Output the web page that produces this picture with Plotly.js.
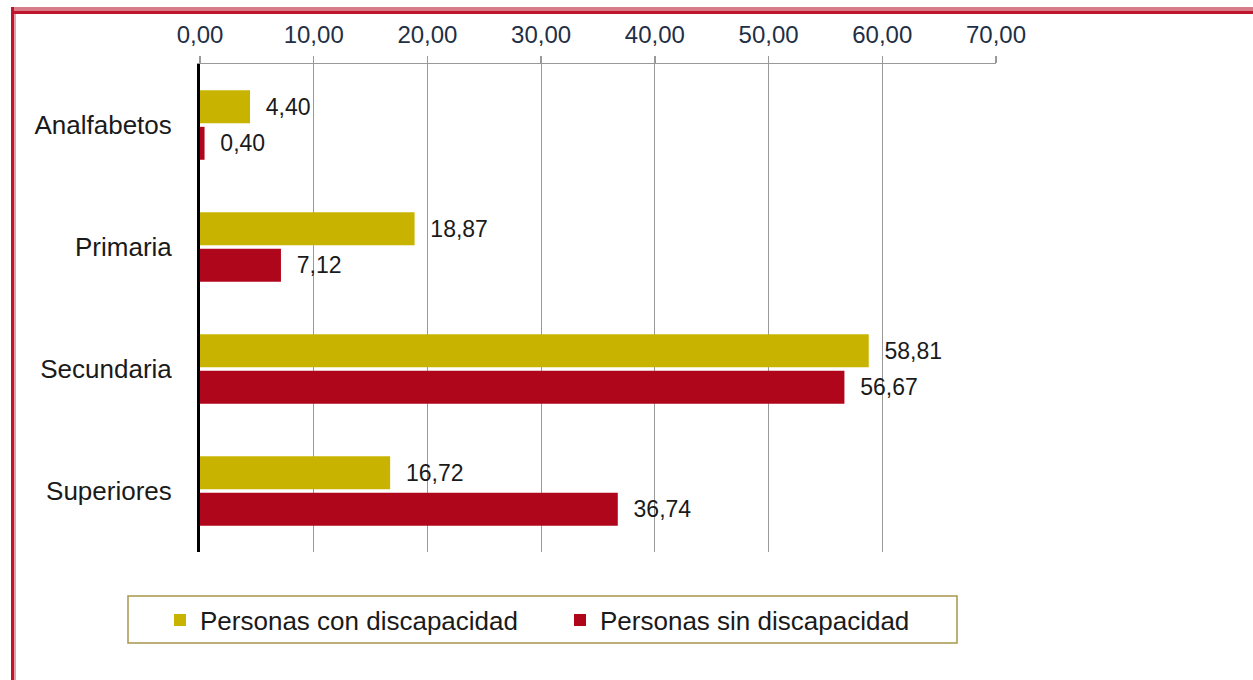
<!DOCTYPE html>
<html>
<head>
<meta charset="utf-8">
<script src="https://cdn.plot.ly/plotly-3.0.1.min.js"></script>
<style>
  html, body { margin: 0; padding: 0; background: #fff; }
  #wrap { position: relative; width: 1253px; height: 680px; overflow: hidden; }
  #frameTop { position: absolute; left: 11px; top: 7px; width: 1260px; height: 4px; background: #d97c89; }
  #frameTop2 { position: absolute; left: 11px; top: 11px; width: 1260px; height: 3px; background: #c0142c; }
  #frameLeft { position: absolute; left: 11px; top: 7px; width: 3px; height: 700px; background: #c0142c; }
  #frameLeft2 { position: absolute; left: 14px; top: 14px; width: 2px; height: 700px; background: #e2a0aa; }
  #chart { position: absolute; left: 0; top: 0; width: 1253px; height: 680px; }
</style>
</head>
<body>
<div id="wrap">
  <div id="chart"></div>
  <div id="frameTop"></div>
  <div id="frameTop2"></div>
  <div id="frameLeft"></div>
  <div id="frameLeft2"></div>
</div>
<script>
const categories = ["Analfabetos", "Primaria", "Secundaria", "Superiores"];
const conDiscapacidad = [4.40, 18.87, 58.81, 16.72];
const sinDiscapacidad = [0.40, 7.12, 56.67, 36.74];
const seriesNames = ["Personas con discapacidad", "Personas sin discapacidad"];
const tickValues = [0, 10, 20, 30, 40, 50, 60, 70];

const fmt = v => v.toFixed(2).replace('.', ',');
const pad = '\u00a0\u00a0';

const textFont = { family: 'Liberation Sans, Arial, sans-serif', size: 23, color: '#1a1a1a' };

const traces = [
  {
    type: 'bar', orientation: 'h', name: seriesNames[0],
    y: categories, x: conDiscapacidad,
    marker: { color: '#c8b400' },
    text: conDiscapacidad.map(v => pad + fmt(v)),
    textposition: 'outside', cliponaxis: false, constraintext: 'none',
    outsidetextfont: textFont, hoverinfo: 'x+y'
  },
  {
    type: 'bar', orientation: 'h', name: seriesNames[1],
    y: categories, x: sinDiscapacidad,
    marker: { color: '#b0061c' },
    text: sinDiscapacidad.map(v => pad + fmt(v)),
    textposition: 'outside', cliponaxis: false, constraintext: 'none',
    outsidetextfont: textFont, hoverinfo: 'x+y'
  }
];

const plotTop = 64, plotBottom = 552, plotLeft = 200, plotRight = 996;
const H = plotBottom - plotTop, W = plotRight - plotLeft;
const px = x => (x - plotLeft) / W;
const py = y => (plotBottom - y) / H;

const layout = {
  width: 1253, height: 680,
  margin: { l: plotLeft, r: 1253 - plotRight, t: plotTop, b: 680 - plotBottom, pad: 0 },
  paper_bgcolor: '#fff', plot_bgcolor: '#fff',
  separators: ',.',
  barmode: 'group', bargap: 0.4, bargroupgap: 0.1,
  font: { family: 'Liberation Sans, Arial, sans-serif', color: '#1a1a1a' },
  xaxis: {
    side: 'top', range: [0, 70], tickvals: tickValues,
    ticktext: tickValues.map(fmt),
    showgrid: true, gridcolor: '#999999', gridwidth: 1,
    showline: true, linecolor: '#999999', linewidth: 1.5,
    ticks: 'outside', ticklen: 7, tickcolor: '#999999', tickwidth: 1.5,
    tickfont: { size: 24, color: '#1f2f45' }, ticklabelstandoff: 3,
    zeroline: false, fixedrange: true
  },
  yaxis: {
    autorange: 'reversed', type: 'category',
    showline: true, linecolor: '#000000', linewidth: 3,
    ticks: '', showgrid: false, zeroline: false,
    tickfont: { size: 26, color: '#1a1a1a' }, ticklabelstandoff: 20,
    fixedrange: true
  },
  showlegend: true,
  legend: {
    orientation: 'h', x: px(160), xanchor: 'left', y: py(620), yanchor: 'middle',
    font: { size: 26, color: '#1a1a1a' },
    entrywidthmode: 'pixels', entrywidth: 355,
    bgcolor: 'rgba(0,0,0,0)', borderwidth: 0, traceorder: 'normal'
  },
  shapes: [
    { type: 'rect', xref: 'paper', yref: 'paper', x0: px(128), x1: px(957), y0: py(596), y1: py(643),
      line: { color: '#a8964a', width: 1.5 }, fillcolor: 'rgba(0,0,0,0)', layer: 'below' }
  ]
};

Plotly.newPlot('chart', traces, layout, { displayModeBar: false, staticPlot: true });
</script>
</body>
</html>
